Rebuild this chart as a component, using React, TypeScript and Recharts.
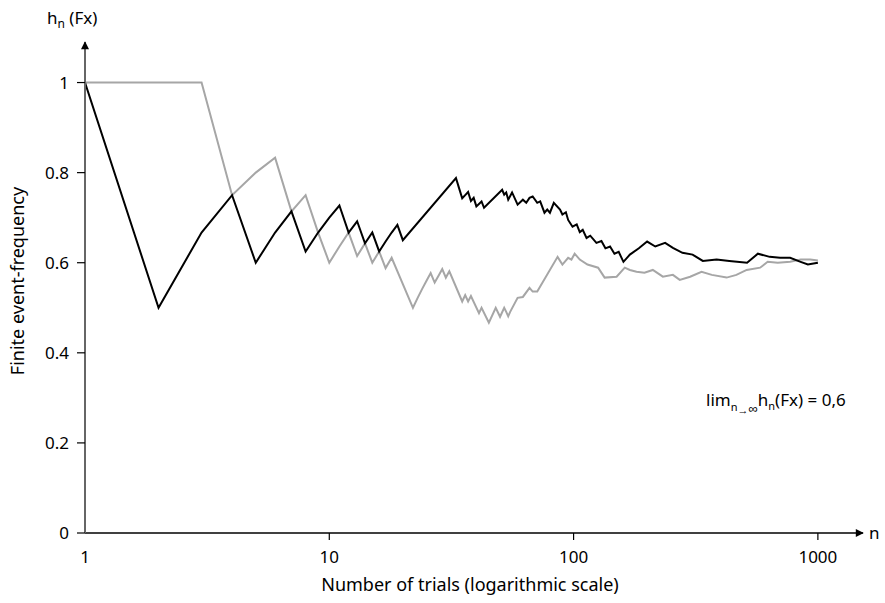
import React from 'react'
import { LineChart, Line, XAxis, YAxis } from 'recharts'

// trial counts and running event-frequency
const blackN = [1, 2, 3, 4, 5, 6, 7, 8, 9, 10, 11, 12, 13, 14, 15, 16, 17, 18, 19, 20, 33, 34, 35, 36, 37, 38, 39, 40, 42, 43, 51, 52, 53, 54, 56, 59, 62, 64, 66, 68, 71, 73, 76, 78, 80, 83, 88, 90, 93, 95, 99, 103, 106, 109, 113, 117, 124, 130, 135, 141, 147, 153, 160, 170, 185, 200, 216, 237, 255, 279, 307, 338, 385, 434, 513, 568, 635, 700, 770, 850, 910, 1000]
const blackH = [1, 0.5, 0.667, 0.75, 0.6, 0.667, 0.714, 0.625, 0.667, 0.7, 0.727, 0.667, 0.692, 0.643, 0.667, 0.625, 0.647, 0.667, 0.684, 0.65, 0.788, 0.765, 0.743, 0.75, 0.757, 0.737, 0.744, 0.725, 0.736, 0.722, 0.762, 0.751, 0.756, 0.74, 0.756, 0.729, 0.74, 0.733, 0.744, 0.747, 0.733, 0.736, 0.711, 0.718, 0.711, 0.733, 0.718, 0.707, 0.712, 0.695, 0.68, 0.685, 0.668, 0.673, 0.655, 0.66, 0.644, 0.648, 0.632, 0.636, 0.62, 0.624, 0.602, 0.618, 0.632, 0.647, 0.636, 0.644, 0.633, 0.622, 0.618, 0.604, 0.607, 0.604, 0.6, 0.62, 0.613, 0.611, 0.611, 0.602, 0.596, 0.6]

const grayN = [1, 2, 3, 4, 5, 6, 7, 8, 9, 10, 11, 12, 13, 14, 15, 16, 17, 18, 22, 23, 24, 25, 26, 27, 28, 29, 30, 31, 35, 36, 37, 38, 41, 42, 45, 48, 50, 52, 53, 54, 55, 59, 62, 66, 68, 71, 86, 90, 95, 98, 101, 106, 114, 126, 134, 150, 162, 170, 181, 195, 211, 232, 255, 272, 300, 334, 368, 423, 464, 511, 580, 623, 685, 770, 850, 930, 1000]
const grayH = [1, 1, 1, 0.75, 0.8, 0.833, 0.714, 0.75, 0.667, 0.6, 0.636, 0.667, 0.615, 0.643, 0.6, 0.625, 0.588, 0.611, 0.5, 0.522, 0.542, 0.56, 0.577, 0.556, 0.571, 0.586, 0.567, 0.581, 0.514, 0.528, 0.514, 0.526, 0.488, 0.5, 0.467, 0.5, 0.48, 0.5, 0.491, 0.481, 0.491, 0.522, 0.524, 0.544, 0.536, 0.536, 0.613, 0.596, 0.611, 0.607, 0.62, 0.607, 0.596, 0.589, 0.567, 0.569, 0.589, 0.584, 0.58, 0.578, 0.584, 0.569, 0.573, 0.562, 0.569, 0.58, 0.573, 0.567, 0.573, 0.584, 0.589, 0.602, 0.6, 0.602, 0.607, 0.607, 0.605]

const xTicks = [1, 10, 100, 1000]
const yTicks = [0, 0.2, 0.4, 0.6, 0.8, 1]

const blackData = blackN.map((n, i) => ({ n, h: blackH[i] }))
const grayData = grayN.map((n, i) => ({ n, h: grayH[i] }))

const XTick = ({ x, y, payload }: any) => (
  <g>
    {payload.value !== 1 && <line x1={x} x2={x} y1={y} y2={y + 7} stroke="#000" strokeWidth={1.2} />}
    <text x={x} y={y + 30} textAnchor="middle" fontSize={17} fill="#000">
      {payload.value}
    </text>
  </g>
)

export default function App() {
  return (
    <div style={{ position: 'absolute', left: 0, top: 0, fontFamily: '"Noto Sans", sans-serif', background: '#fff' }}>
      <LineChart width={885} height={603} margin={{ top: 42, right: 22, left: 25, bottom: 40 }}>
        <defs>
          <marker id="arrowHead" viewBox="0 0 10 10" refX="9" refY="5" markerWidth="9" markerHeight="8"
            markerUnits="userSpaceOnUse" orient="auto-start-reverse">
            <path d="M0,0 L10,5 L0,10 z" fill="#000" />
          </marker>
        </defs>
        <XAxis
          dataKey="n"
          type="number"
          scale="log"
          domain={[1, 1530]}
          ticks={xTicks}
          allowDataOverflow
          height={30}
          tickSize={0}
          tickMargin={0}
          tick={<XTick />}
          axisLine={{ stroke: '#000', strokeWidth: 1.5, markerEnd: 'url(#arrowHead)' }}
        />
        <YAxis
          type="number"
          domain={[0, 1.09]}
          ticks={yTicks}
          allowDataOverflow
          width={60}
          tickSize={8}
          tickMargin={8}
          tickLine={{ stroke: '#000', strokeWidth: 1.2 }}
          tick={{ fontSize: 17, fill: '#000' }}
          axisLine={{ stroke: '#666', strokeWidth: 2, markerStart: 'url(#arrowHead)' }}
        />
        <Line data={grayData} dataKey="h" type="linear" stroke="#a6a6a6" strokeWidth={2} dot={false} isAnimationActive={false} />
        <Line data={blackData} dataKey="h" type="linear" stroke="#000" strokeWidth={2} dot={false} isAnimationActive={false} />
        <text x={47} y={24} fontSize={17} fill="#000">
          h<tspan fontSize={12} dy={4}>n</tspan><tspan dy={-4}> (Fx)</tspan>
        </text>
        <text x={869} y={539} fontSize={17} fill="#000">n</text>
        <text x={17} y={281} fontSize={18} fill="#000" textAnchor="middle" dominantBaseline="central" transform="rotate(-90, 17, 281)">
          Finite event-frequency
        </text>
        <text x={470} y={591} fontSize={18} fill="#000" textAnchor="middle">
          Number of trials (logarithmic scale)
        </text>
        <text x={706} y={406} fontSize={17} fill="#000">
          lim<tspan fontSize={11} dy={5}>n</tspan><tspan fontSize={11} dy={3}>→</tspan><tspan fontSize={13} dy={-1}>∞</tspan><tspan dy={-7}>h</tspan><tspan fontSize={11} dy={4}>n</tspan><tspan dy={-4}>(Fx) = 0,6</tspan>
        </text>
      </LineChart>
    </div>
  )
}
